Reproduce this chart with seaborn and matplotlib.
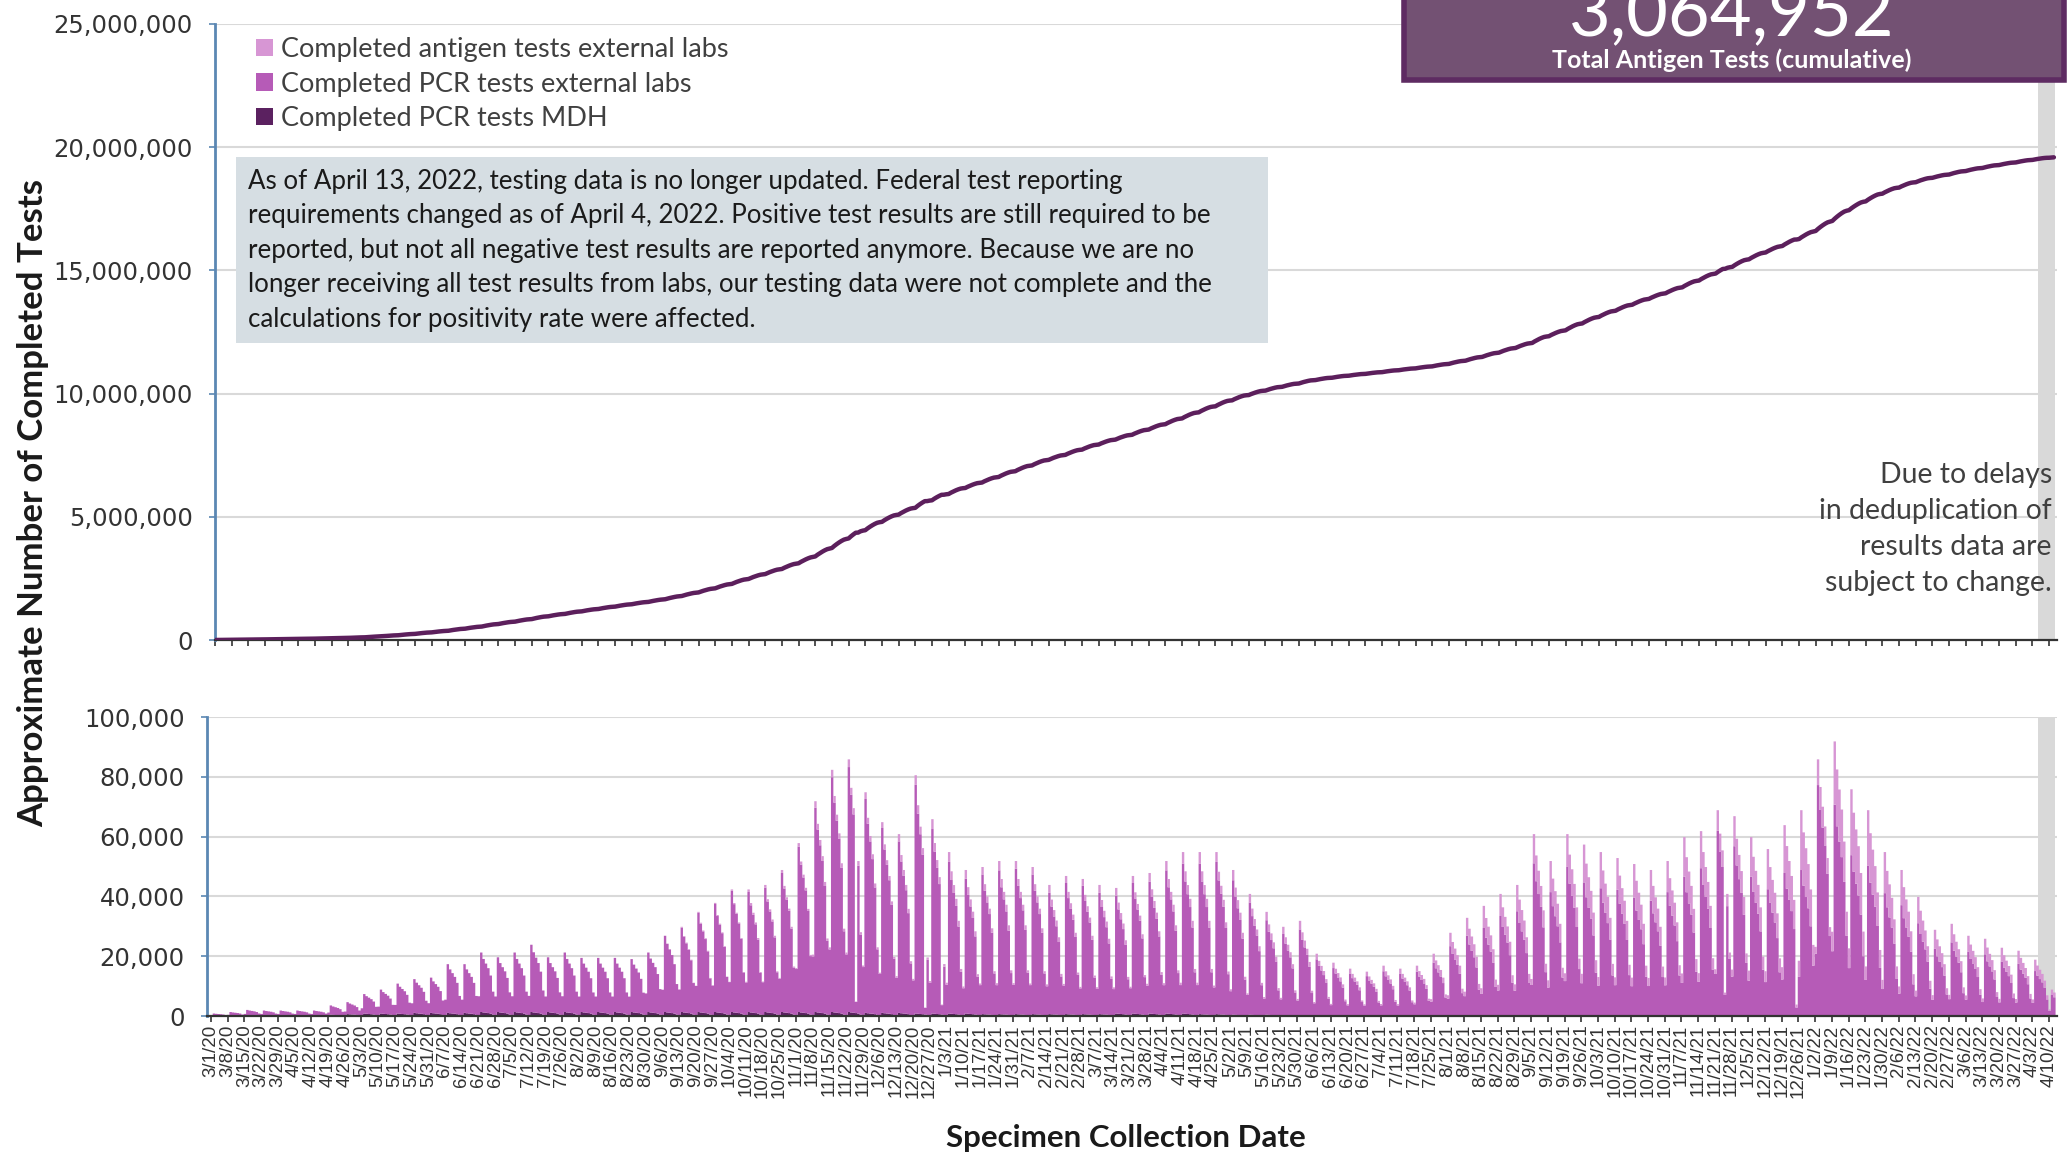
"""Minnesota completed COVID-19 tests: cumulative line above, daily stacked bars below."""

import matplotlib.pyplot as plt
import numpy as np
import pandas as pd
import seaborn as sns
from matplotlib.patches import Patch, Rectangle

FIRST_DAY = "2020-03-01"
LAST_DAY = "2022-04-12"

# thousands of tests, one entry per week (weeks start Sunday 3/1/20)
weekly_peak = [
    1.0, 1.5, 2.2, 2.0, 2.0, 2.0, 2.0, 3.7, 4.8, 7.5,
    9.0, 11.0, 12.5, 13.0, 17.5, 17.5, 21.4, 19.8, 21.4, 24.0,
    19.8, 21.4, 19.6, 19.6, 19.6, 19.2, 21.4, 27.0, 30.0, 35.0,
    38.0, 42.5, 42.5, 44.0, 49.0, 58.0, 72.0, 82.5, 86.0, 75.0,
    65.0, 61.0, 80.7, 66.0, 55.0, 49.0, 50.0, 52.0, 52.0, 50.0,
    44.0, 47.0, 46.0, 44.0, 43.0, 47.0, 48.0, 52.0, 55.0, 55.0,
    55.0, 49.0, 41.0, 35.0, 30.0, 32.0, 21.0, 18.0, 16.0, 15.0,
    17.0, 16.0, 17.0, 21.0, 28.0, 33.0, 37.0, 41.0, 44.0, 61.0,
    52.0, 61.0, 57.5, 55.0, 53.0, 51.0, 49.0, 52.0, 60.0, 62.0,
    69.0, 67.0, 60.0, 56.0, 64.0, 69.0, 86.0, 92.0, 76.0, 69.0,
    55.0, 49.0, 40.0, 29.0, 31.0, 27.0, 26.0, 23.0, 22.0, 19.0,
    9.0,
]
weekly_low = [
    0.3, 0.5, 0.8, 0.8, 0.8, 0.8, 0.8, 1.2, 1.5, 2.5,
    3.0, 3.5, 4.0, 4.0, 5.0, 5.0, 6.0, 6.0, 6.0, 6.0,
    6.0, 6.0, 6.0, 6.0, 6.0, 6.0, 7.0, 8.0, 8.0, 9.0,
    9.0, 10.0, 10.0, 10.0, 11.0, 14.0, 18.0, 20.0, 18.0, 14.0,
    12.0, 11.0, 9.0, 9.0, 9.0, 8.0, 9.0, 9.0, 9.0, 9.0,
    9.0, 9.0, 8.0, 8.0, 8.0, 8.0, 9.0, 9.0, 9.0, 9.0,
    8.0, 7.0, 6.0, 5.0, 5.0, 4.5, 4.0, 3.5, 3.5, 3.5,
    3.5, 3.5, 4.0, 5.0, 6.0, 7.0, 8.0, 9.0, 9.0, 10.0,
    10.0, 12.0, 12.0, 11.0, 11.0, 11.0, 11.0, 11.0, 12.0, 12.0,
    13.0, 13.0, 13.0, 13.0, 14.0, 16.0, 20.0, 25.0, 20.0, 14.0,
    10.0, 8.0, 7.0, 6.0, 6.0, 6.0, 5.0, 5.0, 5.0, 5.0,
    2.0,
]
antigen_share = [
    0.0, 0.0, 0.0, 0.0, 0.0, 0.0, 0.0, 0.0, 0.0, 0.0,
    0.0, 0.0, 0.0, 0.0, 0.0, 0.0, 0.0, 0.0, 0.0, 0.0,
    0.0, 0.0, 0.0, 0.0, 0.0, 0.0, 0.0, 0.0, 0.01, 0.01,
    0.01, 0.01, 0.02, 0.02, 0.02, 0.02, 0.03, 0.03, 0.03, 0.03,
    0.03, 0.04, 0.04, 0.05, 0.06, 0.06, 0.05, 0.06, 0.05, 0.05,
    0.06, 0.05, 0.05, 0.06, 0.06, 0.05, 0.06, 0.06, 0.07, 0.07,
    0.06, 0.07, 0.07, 0.08, 0.08, 0.09, 0.09, 0.10, 0.10, 0.10,
    0.11, 0.11, 0.12, 0.14, 0.16, 0.18, 0.20, 0.18, 0.20, 0.16,
    0.20, 0.18, 0.22, 0.22, 0.20, 0.22, 0.21, 0.20, 0.22, 0.20,
    0.10, 0.15, 0.22, 0.24, 0.25, 0.29, 0.10, 0.23, 0.29, 0.27,
    0.25, 0.24, 0.22, 0.22, 0.20, 0.20, 0.20, 0.20, 0.20, 0.20,
    0.20,
]
mdh_tests = [
    0.3, 0.3, 0.4, 0.4, 0.4, 0.4, 0.5, 0.6, 0.8, 1.0,
    1.0, 1.0, 1.2, 1.2, 1.2, 1.2, 1.5, 1.5, 1.5, 1.5,
    1.5, 1.5, 1.5, 1.5, 1.5, 1.5, 1.5, 1.5, 1.5, 1.5,
    1.5, 1.5, 1.5, 1.5, 1.5, 1.5, 1.5, 1.5, 1.5, 1.2,
    1.2, 1.2, 1.0, 1.0, 1.0, 1.0, 0.8, 0.8, 0.8, 0.8,
    0.8, 0.8, 0.8, 0.8, 1.0, 1.0, 1.0, 1.0, 1.0, 0.8,
    0.8, 0.6, 0.6, 0.6, 0.5, 0.5, 0.5, 0.5, 0.5, 0.5,
    0.5, 0.5, 0.5, 0.5, 0.5, 0.5, 0.5, 0.5, 0.5, 0.5,
    0.5, 0.5, 0.5, 0.5, 0.5, 0.5, 0.5, 0.5, 0.5, 0.5,
    0.5, 0.5, 0.5, 0.5, 0.5, 0.5, 0.5, 0.5, 0.5, 0.5,
    0.4, 0.4, 0.4, 0.4, 0.4, 0.4, 0.4, 0.4, 0.4, 0.4,
    0.3,
]
# share of each week's swing reached on Sun, Mon, ..., Sat
weekday_shape = [0.05, 1.0, 0.86, 0.76, 0.66, 0.5, 0.15]
holiday_dates = ["2020-11-26", "2020-12-25", "2021-01-01", "2021-11-25", "2021-12-25"]
holiday_tests = [5.0, 3.0, 4.0, 8.0, 4.0]
delay_band = ["2022-04-06", "2022-04-13"]

series_names = [
    "Completed antigen tests external labs",
    "Completed PCR tests external labs",
    "Completed PCR tests MDH",
]
series_colors = ["#d796d4", "#b65bb7", "#5b2160"]
antigen_total = "3,064,952"
note_text = (
    "As of April 13, 2022, testing data is no longer updated. Federal test reporting\n"
    "requirements changed as of April 4, 2022. Positive test results are still required to be\n"
    "reported, but not all negative test results are reported anymore. Because we are no\n"
    "longer receiving all test results from labs, our testing data were not complete and the\n"
    "calculations for positivity rate were affected."
)
delay_text = "Due to delays\nin deduplication of\nresults data are\nsubject to change."

W, H = 2070, 1160
DAY0_PX = 211
PX_PER_DAY = 16.71 / 7
RIGHT_PX = 2057


def fx(px):
    return px / W


def fy(px):
    return 1 - px / H


def build_daily():
    dates = pd.date_range(FIRST_DAY, LAST_DAY, freq="D")
    week = np.arange(len(dates)) // 7
    dow = (dates.dayofweek + 1) % 7
    shape = np.array(weekday_shape)[dow]
    peak = np.array(weekly_peak)[week]
    low = np.array(weekly_low)[week]
    total = low + (peak - low) * shape
    for d, v in zip(holiday_dates, holiday_tests):
        total[dates.get_loc(pd.Timestamp(d))] = v
    antigen = total * np.array(antigen_share)[week]
    mdh = np.minimum(np.array(mdh_tests)[week] * (0.3 + 0.7 * shape), total - antigen)
    pcr = total - antigen - mdh
    return dates, total * 1000, antigen * 1000, pcr * 1000, mdh * 1000


def main():
    sns.set_theme(style="white")
    plt.rcParams["font.family"] = ["Lato", "DejaVu Sans"]

    dates, total, antigen, pcr, mdh = build_daily()
    days = np.arange(len(dates))
    cumulative = np.cumsum(total)

    long_df = pd.concat(
        [
            pd.DataFrame({"day": days, "series": series_names[0], "tests": antigen}),
            pd.DataFrame({"day": days, "series": series_names[1], "tests": pcr}),
            pd.DataFrame({"day": days, "series": series_names[2], "tests": mdh}),
        ],
        ignore_index=True,
    )

    fig = plt.figure(figsize=(W / 100, H / 100), dpi=100)
    x_right = (RIGHT_PX - DAY0_PX) / PX_PER_DAY

    top_left = 215
    ax_top = fig.add_axes([fx(top_left), fy(640), fx(RIGHT_PX - top_left), (640 - 24) / H])
    bot_left = 207
    ax_bot = fig.add_axes([fx(bot_left), fy(1016), fx(RIGHT_PX - bot_left), (1016 - 717) / H])

    band0 = dates.get_loc(pd.Timestamp(delay_band[0])) - 0.5
    band1 = band0 + (pd.Timestamp(delay_band[1]) - pd.Timestamp(delay_band[0])).days

    week_ticks = days[::7]
    week_labels = [f"{d.month}/{d.day}/{d.strftime('%y')}" for d in dates[::7]]

    # top panel: cumulative
    ax_top.axvspan(band0, band1, color="#d9d9d9", zorder=0, lw=0)
    sns.lineplot(x=days, y=cumulative, color="#5c1f5c", lw=3.2, ax=ax_top, zorder=3)
    ax_top.set_xlim((top_left - DAY0_PX) / PX_PER_DAY, x_right)
    ax_top.set_ylim(0, 25_000_000)
    ax_top.set_yticks(np.arange(0, 25_000_001, 5_000_000))
    ax_top.set_yticklabels([f"{v:,.0f}" for v in np.arange(0, 25_000_001, 5_000_000)])
    ax_top.set_xticks(week_ticks)
    ax_top.set_xticklabels([])
    ax_top.yaxis.grid(True, color="#d9d9d9", lw=1.5)
    ax_top.set_axisbelow(True)

    # bottom panel: daily stacked bars
    ax_bot.axvspan(band0, band1, color="#d9d9d9", zorder=0, lw=0)
    sns.histplot(
        data=long_df, x="day", weights="tests", hue="series", hue_order=series_names,
        multiple="stack", discrete=True, element="step", palette=series_colors,
        alpha=1, linewidth=0, legend=False, ax=ax_bot, zorder=2,
    )
    ax_bot.set_xlim((bot_left - DAY0_PX) / PX_PER_DAY, x_right)
    ax_bot.set_ylim(0, 100_000)
    ax_bot.set_yticks(np.arange(0, 100_001, 20_000))
    ax_bot.set_yticklabels([f"{v:,.0f}" for v in np.arange(0, 100_001, 20_000)])
    ax_bot.set_xticks(week_ticks)
    ax_bot.set_xticklabels(week_labels, rotation=90, fontsize=13.5, color="#333333",
                           family=["Liberation Sans Narrow", "Liberation Sans", "DejaVu Sans"])
    ax_bot.yaxis.grid(True, color="#d9d9d9", lw=1.5)
    ax_bot.set_axisbelow(True)
    ax_bot.set_xlabel("")
    ax_bot.set_ylabel("")

    for ax in (ax_top, ax_bot):
        for side in ("top", "right"):
            ax.spines[side].set_visible(False)
        ax.spines["left"].set_color("#5b87b3")
        ax.spines["left"].set_linewidth(2)
        ax.spines["bottom"].set_color("#333333")
        ax.spines["bottom"].set_linewidth(1.6)
        ax.tick_params(axis="y", which="both", left=True, length=4, width=1.2,
                       color="#5b87b3", pad=12, labelsize=17.5, labelcolor="#333333")
        ax.tick_params(axis="x", which="both", bottom=True, length=4, width=1.2,
                       color="#333333", pad=2)
        for lab in ax.get_yticklabels():
            lab.set_family("DejaVu Sans")
        ax.set_facecolor("white")

    # legend
    handles = [Patch(facecolor=c, edgecolor="none") for c in series_colors]
    fig.legend(handles, series_names, loc="upper left", bbox_to_anchor=(fx(232), fy(13)),
               frameon=False, fontsize=19.5, handlelength=0.6, handleheight=0.6,
               handletextpad=0.3, labelspacing=0.34, labelcolor="#404040")

    # note box
    fig.patches.append(Rectangle((fx(236), fy(343)), fx(1268 - 236), (343 - 157) / H,
                                 transform=fig.transFigure, facecolor="#d6dee3",
                                 edgecolor="none", zorder=5))
    fig.text(fx(248), fy(169), note_text, ha="left", va="top", fontsize=18.6,
             color="#1a1a1a", linespacing=1.47, zorder=6)

    # antigen total box
    fig.patches.append(Rectangle((fx(1404), fy(80)), fx(2064 - 1404), 100 / H,
                                 transform=fig.transFigure, facecolor="#735173",
                                 edgecolor="#5e2b62", lw=4, zorder=7))
    fig.text(fx(1732), fy(36), antigen_total, ha="center", va="baseline", fontsize=52,
             color="white", zorder=8)
    fig.text(fx(1732), fy(60), "Total Antigen Tests (cumulative)", ha="center", va="center",
             fontsize=18, fontweight="bold", color="white", zorder=8)

    fig.text(fx(2052), fy(529), delay_text, ha="right", va="center", fontsize=20.4,
             color="#404040", linespacing=1.49)

    fig.text(fx(33), fy(503), "Approximate Number of Completed Tests", rotation=90,
             ha="center", va="center", fontsize=25, fontweight="bold", color="#1a1a1a")
    fig.text(fx(1126), fy(1138), "Specimen Collection Date", ha="center", va="center",
             fontsize=22.5, fontweight="bold", color="#1a1a1a")

    fig.savefig("out.png", dpi=100)
    plt.close(fig)


if __name__ == "__main__":
    main()
